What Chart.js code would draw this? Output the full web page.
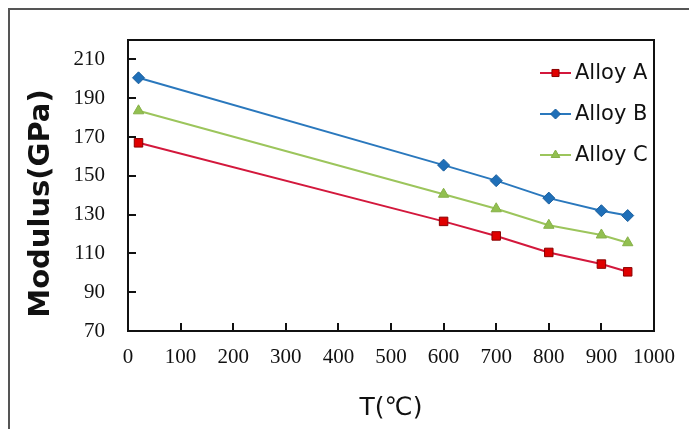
<!DOCTYPE html>
<html>
<head>
<meta charset="utf-8">
<title>Modulus vs temperature</title>
<script src="https://cdn.jsdelivr.net/npm/chart.js"></script>
<style>
  html, body { margin: 0; padding: 0; background: #fff; }
  #wrap { position: relative; width: 689px; height: 429px; overflow: hidden; }
  #frame {
    position: absolute; left: 8px; top: 8px; width: 760px; height: 500px;
    border: 2px solid #555; box-sizing: border-box; pointer-events: none;
  }
  canvas { position: absolute; left: 0; top: 0; }
</style>
</head>
<body>
<div id="wrap">
  <canvas id="chart" width="689" height="429"></canvas>
  <div id="frame"></div>
</div>
<script>
// temperatures (°C) and moduli (GPa)
const temps = [20, 600, 700, 800, 900, 950];
const alloyA = [167, 126.5, 119, 110.5, 104.5, 100.5];
const alloyB = [200.5, 155.5, 147.5, 138.5, 132, 129.5];
const alloyC = [183.5, 140.5, 133, 124.5, 119.5, 115.5];
const seriesNames = ["Alloy A", "Alloy B", "Alloy C"];
const yTickValues = [70, 90, 110, 130, 150, 170, 190, 210];
const yTitle = "Modulus(GPa)";

const toPoints = vals => vals.map((v, i) => ({ x: temps[i], y: v }));

// black box round the plot area
const plotBox = {
  id: "plotBox",
  afterDatasetsDraw(chart) {
    const { ctx, chartArea: a } = chart;
    ctx.save();
    ctx.strokeStyle = "#111";
    ctx.lineWidth = 2;
    ctx.strokeRect(a.left, a.top, a.right - a.left, a.bottom - a.top);
    ctx.restore();
  }
};

// short tick marks pointing into the plot
const innerTicks = {
  id: "innerTicks",
  afterDatasetsDraw(chart) {
    const { ctx, chartArea: a, scales } = chart;
    ctx.save();
    ctx.strokeStyle = "#111";
    ctx.lineWidth = 2;
    ctx.beginPath();
    scales.y.ticks.forEach(t => {
      const py = Math.round(scales.y.getPixelForValue(t.value));
      ctx.moveTo(a.left, py);
      ctx.lineTo(a.left + 8, py);
    });
    scales.x.ticks.forEach(t => {
      const px = Math.round(scales.x.getPixelForValue(t.value));
      ctx.moveTo(px, a.bottom);
      ctx.lineTo(px, a.bottom - 8);
    });
    ctx.stroke();
    ctx.restore();
  }
};

// rotated y-axis title, a little below the plot's middle
const yAxisTitle = {
  id: "yAxisTitle",
  afterDraw(chart) {
    const { ctx, chartArea: a } = chart;
    ctx.save();
    ctx.translate(41, (a.top + a.bottom) / 2 + 18);
    ctx.rotate(-Math.PI / 2);
    ctx.fillStyle = "#111";
    ctx.font = "bold 29px 'DejaVu Sans'";
    ctx.textAlign = "center";
    ctx.textBaseline = "middle";
    ctx.fillText(yTitle, 0, 0);
    ctx.restore();
  }
};

// legend drawn inside the top-right corner of the plot
const innerLegend = {
  id: "innerLegend",
  afterDraw(chart) {
    const { ctx, chartArea: a } = chart;
    const x0 = a.right - 114;
    let y = a.top + 33;
    ctx.save();
    chart.data.datasets.forEach(ds => {
      ctx.strokeStyle = ds.borderColor;
      ctx.lineWidth = 2;
      ctx.beginPath();
      ctx.moveTo(x0, y);
      ctx.lineTo(x0 + 31, y);
      ctx.stroke();
      ctx.fillStyle = ds.pointBackgroundColor;
      ctx.strokeStyle = ds.pointBorderColor;
      ctx.lineWidth = 1;
      Chart.helpers.drawPoint(ctx, {
        pointStyle: ds.pointStyle,
        radius: ds.pointRadius - 1,
        borderWidth: 1,
        rotation: 0
      }, x0 + 15.5, y);
      ctx.fillStyle = "#111";
      ctx.font = "21px 'DejaVu Sans'";
      ctx.textBaseline = "middle";
      ctx.textAlign = "left";
      ctx.fillText(ds.label, x0 + 35, y + 1);
      y += 41;
    });
    ctx.restore();
  }
};

new Chart(document.getElementById("chart"), {
  type: "line",
  data: {
    datasets: [
      {
        label: seriesNames[0],
        data: toPoints(alloyA),
        borderColor: "#d3183c",
        borderWidth: 2,
        pointStyle: "rect",
        pointRadius: 6,
        pointBackgroundColor: "#e00000",
        pointBorderColor: "#8a0000",
        pointBorderWidth: 1
      },
      {
        label: seriesNames[1],
        data: toPoints(alloyB),
        borderColor: "#2a78bd",
        borderWidth: 2,
        pointStyle: "rectRot",
        pointRadius: 6,
        pointBackgroundColor: "#1f6fb8",
        pointBorderColor: "#1a5e9c",
        pointBorderWidth: 1
      },
      {
        label: seriesNames[2],
        data: toPoints(alloyC),
        borderColor: "#9cc55c",
        borderWidth: 2,
        pointStyle: "triangle",
        pointRadius: 6,
        pointBackgroundColor: "#92c050",
        pointBorderColor: "#86b048",
        pointBorderWidth: 1
      }
    ]
  },
  options: {
    responsive: false,
    animation: false,
    events: [],
    layout: { padding: { left: 0, top: 40, right: 34, bottom: 0 } },
    plugins: { legend: { display: false }, tooltip: { enabled: false } },
    scales: {
      x: {
        type: "linear",
        min: 0,
        max: 1000,
        grid: { display: false, drawTicks: false },
        border: { display: false },
        ticks: {
          stepSize: 100,
          padding: 14,
          color: "#111",
          maxRotation: 0,
          callback: v => String(v),
          font: { family: "'Liberation Serif'", size: 21 }
        },
        title: {
          display: true,
          text: "T(℃)",
          color: "#111",
          padding: { top: 0, bottom: 6 },
          font: { family: "'DejaVu Sans'", size: 25 }
        },
        afterFit(scale) { scale.height = 98; }
      },
      y: {
        type: "linear",
        min: 70,
        max: 220,
        grid: { display: false, drawTicks: false },
        border: { display: false },
        afterBuildTicks(scale) {
          scale.ticks = yTickValues.map(v => ({ value: v }));
        },
        ticks: {
          padding: 23,
          color: "#111",
          font: { family: "'Liberation Serif'", size: 21 }
        },
        afterFit(scale) { scale.width = 128; }
      }
    }
  },
  plugins: [plotBox, innerTicks, yAxisTitle, innerLegend]
});
</script>
</body>
</html>
